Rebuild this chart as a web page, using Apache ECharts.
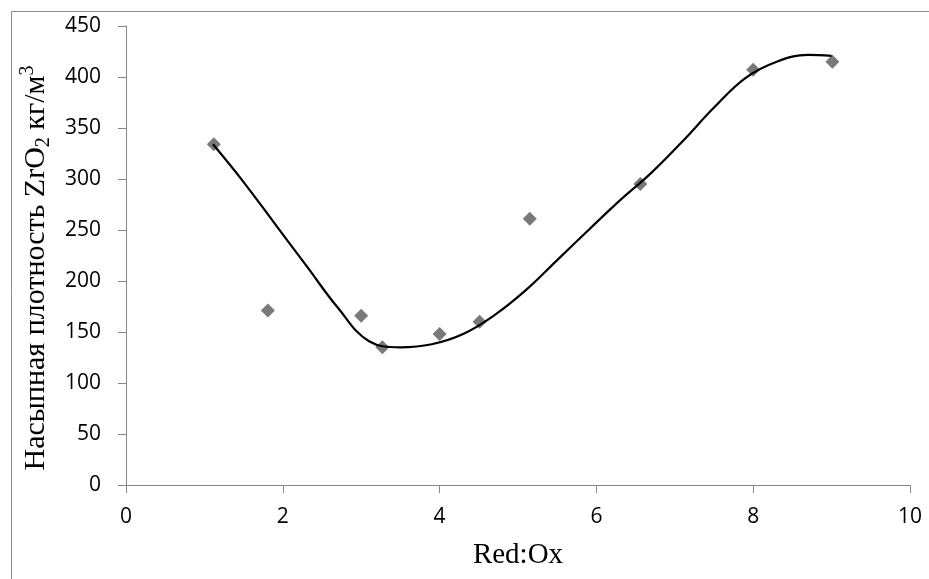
<!DOCTYPE html>
<html>
<head>
<meta charset="utf-8">
<script src="https://cdn.jsdelivr.net/npm/echarts@6/dist/echarts.min.js"></script>
<style>
html,body{margin:0;padding:0;background:#fff;}
#chart{width:929px;height:579px;}
</style>
</head>
<body>
<div id="chart"></div>
<script>
// measured points (Red:Ox, bulk density kg/m3)
const redOx = [1.12, 1.81, 3.0, 3.27, 4.0, 4.51, 5.15, 6.56, 8.0, 9.01];
const density = [334, 171, 166, 135, 148, 160, 261, 295, 407, 415];
// trend line
const trendX = [1.11, 1.5, 1.9, 2.3, 2.7, 3.1, 3.5, 3.9, 4.3, 4.7, 5.1, 5.5, 5.9, 6.3, 6.7, 7.1, 7.5, 7.9, 8.3, 8.7, 9.0];
const trendY = [334, 297, 256, 215, 174, 141, 135, 138, 148, 166.5, 191, 220.5, 250, 279, 306, 337, 370, 399, 415, 421.6, 420.7];
const xTicks = [0, 2, 4, 6, 8, 10];
const yTicks = [0, 50, 100, 150, 200, 250, 300, 350, 400, 450];

const chart = echarts.init(document.getElementById('chart'));
const axisGray = '#868686';
const labelFont = 'Open Sans';

let option = {
    animation: false,
    grid: {left: 126, right: 19, top: 26, bottom: 94, containLabel: false},
    xAxis: {
        type: 'value',
        min: xTicks[0], max: xTicks[xTicks.length - 1], interval: 2,
        name: 'Red:Ox',
        nameLocation: 'middle',
        nameGap: 56,
        nameTextStyle: {fontFamily: 'Liberation Serif', fontSize: 29, color: '#000'},
        axisLine: {lineStyle: {color: axisGray, width: 1}},
        axisTick: {show: true, inside: false, length: 8, lineStyle: {color: axisGray}},
        axisLabel: {fontFamily: labelFont, fontSize: 21, color: '#000', margin: 22},
        splitLine: {show: false}
    },
    yAxis: {
        type: 'value',
        min: yTicks[0], max: yTicks[yTicks.length - 1], interval: 50,
        axisLine: {show: true, lineStyle: {color: axisGray, width: 1}},
        axisTick: {show: true, inside: false, length: 8, lineStyle: {color: axisGray}},
        axisLabel: {fontFamily: labelFont, fontSize: 21, color: '#000', margin: 25},
        splitLine: {show: false}
    },
    graphic: [
        {
            type: 'rect', silent: true,
            shape: {x: 11.5, y: 11.5, width: 2000, height: 2000},
            style: {fill: 'none', stroke: '#8c8c8c', lineWidth: 1}
        },
        {
            type: 'text', silent: true,
            x: 36, y: 268, rotation: Math.PI / 2,
            style: {
                text: '{a|Насыпная плотность ZrO}{sub|2}{a| кг/м}{sup|3}',
                align: 'center', verticalAlign: 'middle',
                fill: '#000',
                rich: {
                    a: {fontFamily: 'Liberation Serif', fontSize: 30, lineHeight: 36, verticalAlign: 'middle', fill: '#000'},
                    sub: {fontFamily: 'Liberation Serif', fontSize: 20, lineHeight: 15, verticalAlign: 'bottom', fill: '#000'},
                    sup: {fontFamily: 'Liberation Serif', fontSize: 20, lineHeight: 15, verticalAlign: 'top', fill: '#000'}
                }
            }
        }
    ],
    series: [
        {
            type: 'scatter',
            symbol: 'diamond',
            symbolSize: 14,
            itemStyle: {color: '#575757'},
            data: redOx.map(function (x, i) { return [x, density[i]]; }),
            z: 2
        },
        {
            type: 'line',
            smooth: 0.4,
            showSymbol: false,
            symbol: 'none',
            lineStyle: {color: '#000', width: 2.2},
            data: trendX.map(function (x, i) { return [x, trendY[i]]; }),
            z: 3
        }
    ]
};
chart.setOption(option);
</script>
</body>
</html>
